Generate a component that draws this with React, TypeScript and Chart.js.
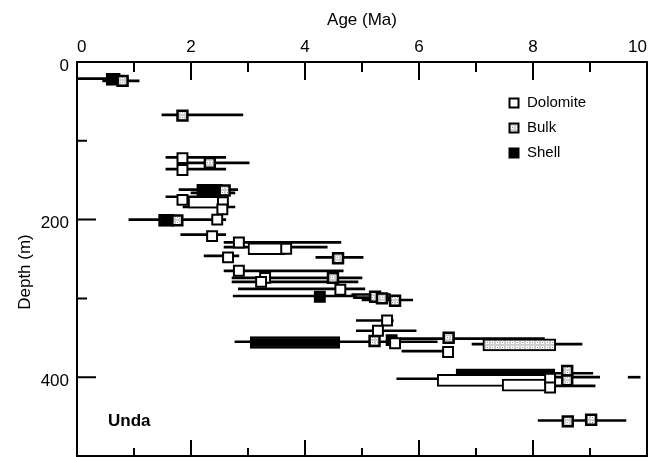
import { useEffect, useRef } from 'react';
import { Chart, registerables } from 'chart.js';

Chart.register(...registerables);

const FONT = "'Liberation Sans', Arial, Helvetica, sans-serif";

// Axis tick values
const xTickValues = [0, 2, 4, 6, 8, 10];
const xMinorValues = [1, 3, 5, 7, 9];
const yTickValues = [0, 200, 400];
const yMinorValues = [100, 300];

// Horizontal error bars: depth (m), age range (Ma)
const errorDepth = [21, 24, 67, 121, 128, 136, 162, 166, 171, 184, 200, 219, 229, 235, 246, 248, 265, 274, 279, 288, 297, 295, 299, 302, 328, 341, 351, 355, 358, 367, 395, 400, 400, 402, 411, 455];
const errorLow = [0.02, 0.45, 1.49, 1.56, 1.85, 1.56, 1.79, 2.0, 1.56, 1.86, 0.91, 1.82, 2.58, 2.58, 2.23, 4.19, 2.58, 2.72, 2.72, 2.83, 2.74, 4.82, 4.85, 5.0, 4.9, 4.9, 5.67, 2.77, 6.93, 5.7, 8.0, 8.0, 9.67, 5.61, 8.0, 8.09];
const errorHigh = [0.9, 1.09, 2.91, 2.61, 3.02, 2.61, 2.82, 2.77, 2.5, 2.77, 2.61, 2.61, 4.63, 4.39, 2.84, 5.02, 4.67, 5.0, 4.93, 5.05, 4.9, 5.5, 5.6, 5.89, 5.55, 5.95, 8.2, 6.32, 8.86, 6.51, 9.05, 9.17, 9.88, 6.32, 9.09, 9.63];

// Dolomite single ages
const dolomiteAge = [1.85, 1.85, 1.85, 2.56, 2.55, 2.46, 2.37, 2.84, 3.67, 2.65, 2.84, 3.3, 3.23, 4.62, 5.44, 5.28, 5.58, 6.51, 8.3, 8.3];
const dolomiteDepth = [122, 137, 175, 178, 187, 200, 221, 229, 237, 248, 265, 274, 279, 289, 328, 341, 357, 368, 402, 413];

// Bulk single ages
const bulkAge = [0.8, 1.85, 2.33, 2.59, 1.76, 4.58, 4.49, 5.23, 5.35, 5.58, 5.22, 6.52, 8.6, 8.6, 8.61, 9.02];
const bulkDepth = [24, 68, 128, 163, 201, 249, 274, 298, 300, 303, 354, 350, 392, 404, 456, 454];

// Shell single ages
const shellAge = [4.26, 5.52];
const shellDepth = [298, 353];

// Age ranges (boxes)
const dolomiteRangeLow = [1.95, 3.0, 6.32, 7.46];
const dolomiteRangeHigh = [2.5, 3.64, 8.39, 8.35];
const dolomiteRangeDepth = [178, 237, 404, 410];

const bulkRangeLow = [7.12];
const bulkRangeHigh = [8.4];
const bulkRangeDepth = [359];

const shellRangeLow = [0.51, 2.1, 1.43, 3.04, 6.65];
const shellRangeHigh = [0.76, 2.55, 1.7, 4.61, 8.38];
const shellRangeDepth = [22, 163, 201, 356, 397];

const legendLabels = ['Dolomite', 'Bulk', 'Shell'];
const siteLabel = 'Unda';

function makeBulkPattern(): CanvasPattern | string {
  const c = document.createElement('canvas');
  c.width = 5;
  c.height = 5;
  const g = c.getContext('2d');
  if (!g) return '#cccccc';
  g.fillStyle = '#cfcfcf';
  g.fillRect(0, 0, 5, 5);
  g.fillStyle = '#ffffff';
  g.fillRect(1, 1, 3, 3);
  g.fillStyle = '#8a8a8a';
  g.fillRect(2, 2, 1, 1);
  return g.createPattern(c, 'repeat') ?? '#cccccc';
}

export default function App() {
  const ref = useRef<HTMLCanvasElement | null>(null);

  useEffect(() => {
    if (!ref.current) return;
    const bulkFill = makeBulkPattern();
    const fills = ['#ffffff', bulkFill, '#000000'];

    const frameAndTicks = {
      id: 'frameAndTicks',
      beforeDatasetsDraw(chart: any) {
        const { ctx, chartArea: a, scales } = chart;
        const x = scales.x;
        const y = scales.y;
        ctx.save();
        ctx.strokeStyle = '#000';
        ctx.lineWidth = 2;
        ctx.beginPath();
        for (const v of xTickValues) {
          const px = x.getPixelForValue(v);
          ctx.moveTo(px, a.top);
          ctx.lineTo(px, a.top + 18);
          ctx.moveTo(px, a.bottom);
          ctx.lineTo(px, a.bottom - 16);
        }
        for (const v of xMinorValues) {
          const px = x.getPixelForValue(v);
          ctx.moveTo(px, a.top);
          ctx.lineTo(px, a.top + 10);
          ctx.moveTo(px, a.bottom);
          ctx.lineTo(px, a.bottom - 8);
        }
        for (const v of yTickValues) {
          const py = y.getPixelForValue(v);
          ctx.moveTo(a.left, py);
          ctx.lineTo(a.left + 19, py);
        }
        for (const v of yMinorValues) {
          const py = y.getPixelForValue(v);
          ctx.moveTo(a.left, py);
          ctx.lineTo(a.left + 10, py);
        }
        ctx.stroke();
        ctx.restore();
      },
      afterDatasetsDraw(chart: any) {
        const { ctx, chartArea: a } = chart;
        ctx.save();
        ctx.strokeStyle = '#000';
        ctx.lineWidth = 2;
        ctx.strokeRect(a.left, a.top, a.right - a.left, a.bottom - a.top);
        ctx.restore();
      },
      afterDraw(chart: any) {
        const { ctx, chartArea: a } = chart;
        ctx.save();
        // y-axis title
        ctx.fillStyle = '#000';
        ctx.font = `17px ${FONT}`;
        ctx.textAlign = 'center';
        ctx.textBaseline = 'middle';
        ctx.translate(25, (a.top + a.bottom) / 2 + 13);
        ctx.rotate(-Math.PI / 2);
        ctx.fillText('Depth (m)', 0, 0);
        ctx.restore();

        // legend
        ctx.save();
        const lx = a.left + 437;
        const ly = a.top + 41;
        legendLabels.forEach((lab, i) => {
          const cy = ly + i * 25;
          if (i === 2) {
            ctx.fillStyle = '#000';
            ctx.fillRect(lx - 5.5, cy - 5.5, 11, 11);
          } else {
            ctx.fillStyle = fills[i] as any;
            ctx.fillRect(lx - 4.5, cy - 4.5, 9, 9);
            ctx.strokeStyle = '#000';
            ctx.lineWidth = 2;
            ctx.strokeRect(lx - 4.5, cy - 4.5, 9, 9);
          }
          ctx.fillStyle = '#000';
          ctx.font = `15px ${FONT}`;
          ctx.textAlign = 'left';
          ctx.textBaseline = 'middle';
          ctx.fillText(lab, lx + 13, cy);
        });
        // site label
        ctx.font = `bold 17px ${FONT}`;
        ctx.textAlign = 'left';
        ctx.textBaseline = 'middle';
        ctx.fillText(siteLabel, a.left + 31, a.top + 359);
        ctx.restore();
      },
    };

    const pointSet = (label: string, ages: number[], depths: number[], fill: any, order: number, bw: number) => ({
      type: 'scatter' as const,
      label,
      data: ages.map((v, i) => ({ x: v, y: depths[i] })),
      pointStyle: 'rect',
      pointRadius: 7,
      pointHoverRadius: 7,
      pointBorderWidth: bw,
      pointBorderColor: '#000',
      pointBackgroundColor: fill,
      order,
    });

    const rangeSet = (label: string, lo: number[], hi: number[], depths: number[], fill: any, order: number) => ({
      type: 'bar' as const,
      label,
      indexAxis: 'y' as const,
      data: depths.map((d, i) => ({ x: [lo[i], hi[i]], y: d })),
      barThickness: 12,
      borderWidth: 2,
      borderColor: '#000',
      backgroundColor: fill,
      borderSkipped: false,
      stack: 'all',
      order,
    });

    const chart = new Chart(ref.current, {
      type: 'scatter',
      data: {
        datasets: [
          pointSet('Dolomite', dolomiteAge, dolomiteDepth, fills[0], 0, 2),
          pointSet('Bulk', bulkAge, bulkDepth, fills[1], 1, 2.5),
          pointSet('Shell', shellAge, shellDepth, fills[2], 2, 2),
          rangeSet('Dolomite range', dolomiteRangeLow, dolomiteRangeHigh, dolomiteRangeDepth, fills[0], 3),
          rangeSet('Bulk range', bulkRangeLow, bulkRangeHigh, bulkRangeDepth, fills[1], 4),
          rangeSet('Shell range', shellRangeLow, shellRangeHigh, shellRangeDepth, fills[2], 5),
          {
            type: 'bar' as const,
            label: 'Error',
            indexAxis: 'y' as const,
            data: errorDepth.map((d, i) => ({ x: [errorLow[i], errorHigh[i]], y: d })),
            barThickness: 2,
            borderWidth: 0,
            backgroundColor: '#000',
            stack: 'all',
            order: 6,
          },
        ] as any,
      },
      options: {
        responsive: false,
        animation: false,
        events: [],
        layout: { autoPadding: false, padding: { left: 0, right: 10, top: 0, bottom: 1 } },
        plugins: { legend: { display: false }, tooltip: { enabled: false } },
        scales: {
          x: {
            type: 'linear',
            position: 'top',
            min: 0,
            max: 10,
            offset: false,
            stacked: false,
            grid: { display: false, drawTicks: false },
            border: { display: false },
            ticks: { font: { size: 17, family: FONT }, color: '#000', padding: 4, align: 'inner', maxRotation: 0, autoSkip: false },
            afterBuildTicks: (s: any) => { s.ticks = xTickValues.map((v) => ({ value: v })); },
            afterFit: (s: any) => { s.height = 62; s.paddingLeft = 0; s.paddingRight = 0; },
            title: { display: true, text: 'Age (Ma)', font: { size: 17, family: FONT }, color: '#000', padding: { top: 10, bottom: 0 } },
          },
          y: {
            type: 'linear',
            position: 'left',
            reverse: true,
            min: 0,
            max: 500,
            offset: false,
            grid: { display: false, drawTicks: false },
            border: { display: false },
            ticks: { font: { size: 17, family: FONT }, color: '#000', padding: 8, autoSkip: false, labelOffset: 4 },
            afterBuildTicks: (s: any) => { s.ticks = yTickValues.map((v) => ({ value: v })); },
            afterFit: (s: any) => { s.width = 77; s.paddingTop = 0; s.paddingBottom = 0; },
          },
        },
      } as any,
      plugins: [frameAndTicks],
    });
    return () => chart.destroy();
  }, []);

  return (
    <div style={{ position: 'absolute', left: 0, top: 0, width: 657, height: 457, background: '#fff' }}>
      <canvas ref={ref} width={657} height={457} style={{ display: 'block' }} />
    </div>
  );
}
